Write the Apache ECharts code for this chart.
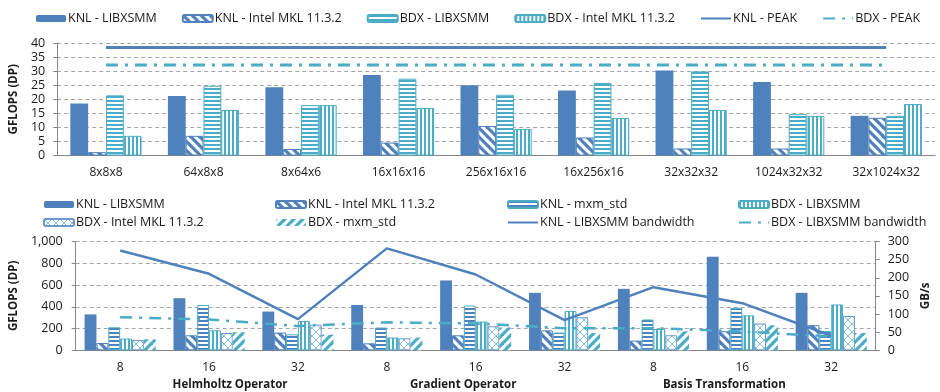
<!DOCTYPE html>
<html><head><meta charset="utf-8">
<script src="https://cdn.jsdelivr.net/npm/echarts@6/dist/echarts.min.js"></script>
<style>html,body{margin:0;padding:0;background:#fff}#c{width:940px;height:392px}</style>
</head><body><div id="c"></div>
<script>
// ---------- DATA ----------
const topCategories = ['8x8x8','64x8x8','8x64x6','16x16x16','256x16x16','16x256x16','32x32x32','1024x32x32','32x1024x32'];
const topKnlLibxsmm = [18.5, 21.2, 24.3, 28.6, 25.0, 23.1, 30.2, 26.1, 14.1];
const topKnlMkl     = [1.2, 7.0, 2.3, 4.6, 10.5, 6.4, 2.5, 2.5, 13.4];
const topBdxLibxsmm = [21.4, 24.8, 17.9, 27.3, 21.6, 25.8, 29.9, 14.7, 14.1];
const topBdxMkl     = [7.0, 16.2, 17.9, 16.9, 9.4, 13.3, 16.2, 14.1, 18.3];
const knlPeak = [38.4, 38.4, 38.4, 38.4, 38.4, 38.4, 38.4, 38.4, 38.4];
const bdxPeak = [32.2, 32.2, 32.2, 32.2, 32.2, 32.2, 32.2, 32.2, 32.2];

const bottomCategories = ['8','16','32','8','16','32','8','16','32'];
const bottomGroups = ['Helmholtz Operator','Gradient Operator','Basis Transformation'];
const botKnlLibxsmm = [330, 479, 356, 417, 642, 528, 565, 860, 528];
const botKnlMkl     = [67, 138, 163, 64, 138, 183, 89, 175, 231];
const botKnlMxm     = [212, 417, 147, 209, 411, 163, 283, 390, 178];
const botBdxLibxsmm = [108, 184, 270, 117, 264, 362, 196, 321, 421];
const botBdxMkl     = [95, 159, 236, 110, 221, 304, 138, 246, 316];
const botBdxMxm     = [101, 166, 144, 117, 209, 159, 175, 230, 159];
const knlBandwidth  = [275, 211, 86, 281, 209, 83, 174, 130, 40];
const bdxBandwidth  = [91, 85, 67, 77, 74, 61, 61, 52, 38];

// ---------- STYLE ----------
const BLUE = '#4F81BD', CYAN = '#4BACC6', AXIS = '#868686', GRIDC = '#a6a6a6', TXT = '#1a1a1a';
const FONT = '"Open Sans", "Liberation Sans", sans-serif';

function pattern(kind, fg, s, lw) {
  const c = document.createElement('canvas');
  c.width = s; c.height = s;
  const g = c.getContext('2d');
  g.fillStyle = '#fff'; g.fillRect(0, 0, s, s);
  g.fillStyle = fg; g.strokeStyle = fg; g.lineWidth = lw || 1;
  if (kind === 'h') g.fillRect(0, 0, s, s / 2);
  else if (kind === 'v') g.fillRect(0, 0, s / 2, s);
  else {
    const down = kind === 'down' || kind === 'x';
    const up = kind === 'up' || kind === 'x';
    [-s, 0, s].forEach(k => {
      if (down) { g.beginPath(); g.moveTo(k - 2, -2); g.lineTo(k + s + 2, s + 2); g.stroke(); }
      if (up) { g.beginPath(); g.moveTo(k + s + 2, -2); g.lineTo(k - 2, s + 2); g.stroke(); }
    });
  }
  return { image: c, repeat: 'repeat' };
}

const catAxisBase = {
  type: 'category',
  axisLine: { lineStyle: { color: AXIS, width: 1 } },
  axisTick: { length: 5, lineStyle: { color: AXIS } },
  axisLabel: { color: TXT, fontFamily: FONT, fontSize: 12, interval: 0 }
};
const valAxisBase = {
  type: 'value',
  axisLine: { show: true, lineStyle: { color: AXIS } },
  axisTick: { show: true, length: 4, lineStyle: { color: AXIS } },
  splitLine: { show: true, lineStyle: { color: GRIDC, type: [4, 3], width: 1 } },
  axisLabel: { color: TXT, fontFamily: FONT, fontSize: 12.5 },
  nameLocation: 'middle',
  nameRotate: 90,
  nameTextStyle: { fontFamily: FONT, fontWeight: 'bold', fontSize: 11.5, color: TXT }
};

const barTop = { type: 'bar', xAxisIndex: 0, yAxisIndex: 0, barGap: '0%', barCategoryGap: '27%' };
const barBot = { type: 'bar', xAxisIndex: 1, yAxisIndex: 1, barGap: '0%', barCategoryGap: '20%' };

const legendText = { fontFamily: FONT, fontSize: 12.5, color: TXT, padding: [0, 0, 0, -3] };
const legendBase = { itemWidth: 30, itemHeight: 7, textStyle: legendText, selectedMode: false };
const lineItem = name => ({ name: name, itemStyle: { color: 'rgba(0,0,0,0)', borderWidth: 0, opacity: 0 } });

const option = {
  animation: false,
  backgroundColor: '#fff',
  grid: [
    { left: 52, top: 43, width: 883, height: 112.5 },
    { left: 60, top: 241.5, width: 829, height: 108.8 }
  ],
  legend: [
    Object.assign({}, legendBase, { left: 31, top: 7, itemGap: 25,
      data: ['KNL - LIBXSMM','KNL - Intel MKL 11.3.2','BDX - LIBXSMM','BDX - Intel MKL 11.3.2',
             lineItem('KNL - PEAK'), lineItem('BDX - PEAK')] }),
    Object.assign({}, legendBase, { left: 38, top: 193, orient: 'vertical', itemGap: 5,
      data: ['KNL - LIBXSMM ', 'BDX - Intel MKL 11.3.2 '] }),
    Object.assign({}, legendBase, { left: 270, top: 193, orient: 'vertical', itemGap: 5,
      data: ['KNL - Intel MKL 11.3.2 ', 'BDX - mxm_std'] }),
    Object.assign({}, legendBase, { left: 502, top: 193, orient: 'vertical', itemGap: 5,
      data: ['KNL - mxm_std', lineItem('KNL - LIBXSMM bandwidth')] }),
    Object.assign({}, legendBase, { left: 733, top: 193, orient: 'vertical', itemGap: 5,
      data: ['BDX - LIBXSMM ', lineItem('BDX - LIBXSMM bandwidth')] })
  ],
  xAxis: [
    Object.assign({}, catAxisBase, { gridIndex: 0, data: topCategories,
      axisLabel: Object.assign({}, catAxisBase.axisLabel, { margin: 11 }) }),
    Object.assign({}, catAxisBase, { gridIndex: 1, data: bottomCategories,
      axisLabel: Object.assign({}, catAxisBase.axisLabel, { margin: 11 }) }),
    {
      type: 'category', gridIndex: 1, position: 'bottom', offset: 17, data: bottomGroups,
      axisLine: { show: false }, axisTick: { show: false }, splitLine: { show: false },
      axisLabel: {
        interval: 0, margin: 11,
        formatter: (v, i) => '{g' + i + '|' + v + '}',
        rich: {
          g0: { fontFamily: FONT, fontWeight: 'bold', fontSize: 11.5, color: TXT, padding: [0, 0, 0, 42] },
          g1: { fontFamily: FONT, fontWeight: 'bold', fontSize: 11.5, color: TXT, padding: [0, 25, 0, 0] },
          g2: { fontFamily: FONT, fontWeight: 'bold', fontSize: 11.5, color: TXT, padding: [0, 36, 0, 0] }
        }
      }
    }
  ],
  yAxis: [
    Object.assign({}, valAxisBase, { gridIndex: 0, min: 0, max: 40, interval: 5,
      name: 'GFLOPS (DP)', nameGap: 30,
      axisLabel: Object.assign({}, valAxisBase.axisLabel, { margin: 12 }) }),
    Object.assign({}, valAxisBase, { gridIndex: 1, min: 0, max: 1000, interval: 200,
      name: 'GFLOPS (DP)', nameGap: 37,
      axisLabel: Object.assign({}, valAxisBase.axisLabel, { margin: 13,
        formatter: v => v.toLocaleString('en-US') }) }),
    Object.assign({}, valAxisBase, { gridIndex: 1, position: 'right', min: 0, max: 300, interval: 50,
      name: 'GB/s', nameGap: 37, splitLine: { show: false },
      axisTick: { show: true, length: 4, lineStyle: { color: AXIS } },
      axisLabel: Object.assign({}, valAxisBase.axisLabel, { margin: 12 }) })
  ],
  series: [
    // top chart
    Object.assign({}, barTop, { name: 'KNL - LIBXSMM', data: topKnlLibxsmm, itemStyle: { color: BLUE } }),
    Object.assign({}, barTop, { name: 'KNL - Intel MKL 11.3.2', data: topKnlMkl,
      itemStyle: { color: pattern('down', BLUE, 9, 3.2), borderColor: BLUE, borderWidth: 1 } }),
    Object.assign({}, barTop, { name: 'BDX - LIBXSMM', data: topBdxLibxsmm,
      itemStyle: { color: pattern('h', CYAN, 4), borderColor: CYAN, borderWidth: 1 } }),
    Object.assign({}, barTop, { name: 'BDX - Intel MKL 11.3.2', data: topBdxMkl,
      itemStyle: { color: pattern('v', CYAN, 4), borderColor: CYAN, borderWidth: 1 } }),
    { name: 'KNL - PEAK', type: 'line', xAxisIndex: 0, yAxisIndex: 0, data: knlPeak, symbol: 'none',
      lineStyle: { color: BLUE, width: 3 }, itemStyle: { color: BLUE }, z: 5 },
    { name: 'BDX - PEAK', type: 'line', xAxisIndex: 0, yAxisIndex: 0, data: bdxPeak, symbol: 'none',
      lineStyle: { color: CYAN, width: 3, type: [12, 7, 3, 7] }, itemStyle: { color: CYAN }, z: 5 },
    // bottom chart
    Object.assign({}, barBot, { name: 'KNL - LIBXSMM ', data: botKnlLibxsmm, itemStyle: { color: BLUE } }),
    Object.assign({}, barBot, { name: 'KNL - Intel MKL 11.3.2 ', data: botKnlMkl,
      itemStyle: { color: pattern('down', BLUE, 9, 3.2), borderColor: BLUE, borderWidth: 1 } }),
    Object.assign({}, barBot, { name: 'KNL - mxm_std', data: botKnlMxm,
      itemStyle: { color: pattern('h', BLUE, 4), borderColor: CYAN, borderWidth: 1 } }),
    Object.assign({}, barBot, { name: 'BDX - LIBXSMM ', data: botBdxLibxsmm,
      itemStyle: { color: pattern('v', CYAN, 4), borderColor: CYAN, borderWidth: 1 } }),
    Object.assign({}, barBot, { name: 'BDX - Intel MKL 11.3.2 ', data: botBdxMkl,
      itemStyle: { color: pattern('x', '#7cc3d6', 8, 1), borderColor: '#6f97c9', borderWidth: 1 } }),
    Object.assign({}, barBot, { name: 'BDX - mxm_std', data: botBdxMxm,
      itemStyle: { color: pattern('up', CYAN, 9, 3.2) } }),
    { name: 'KNL - LIBXSMM bandwidth', type: 'line', xAxisIndex: 1, yAxisIndex: 2, data: knlBandwidth, symbol: 'none',
      lineStyle: { color: BLUE, width: 2.5 }, itemStyle: { color: BLUE }, z: 5 },
    { name: 'BDX - LIBXSMM bandwidth', type: 'line', xAxisIndex: 1, yAxisIndex: 2, data: bdxBandwidth, symbol: 'none',
      lineStyle: { color: CYAN, width: 2.5, type: [12, 7, 3, 7] }, itemStyle: { color: CYAN }, z: 5 }
  ]
};

const chart = echarts.init(document.getElementById('c'), null, { renderer: 'canvas' });
chart.setOption(option);
</script>
</body></html>
